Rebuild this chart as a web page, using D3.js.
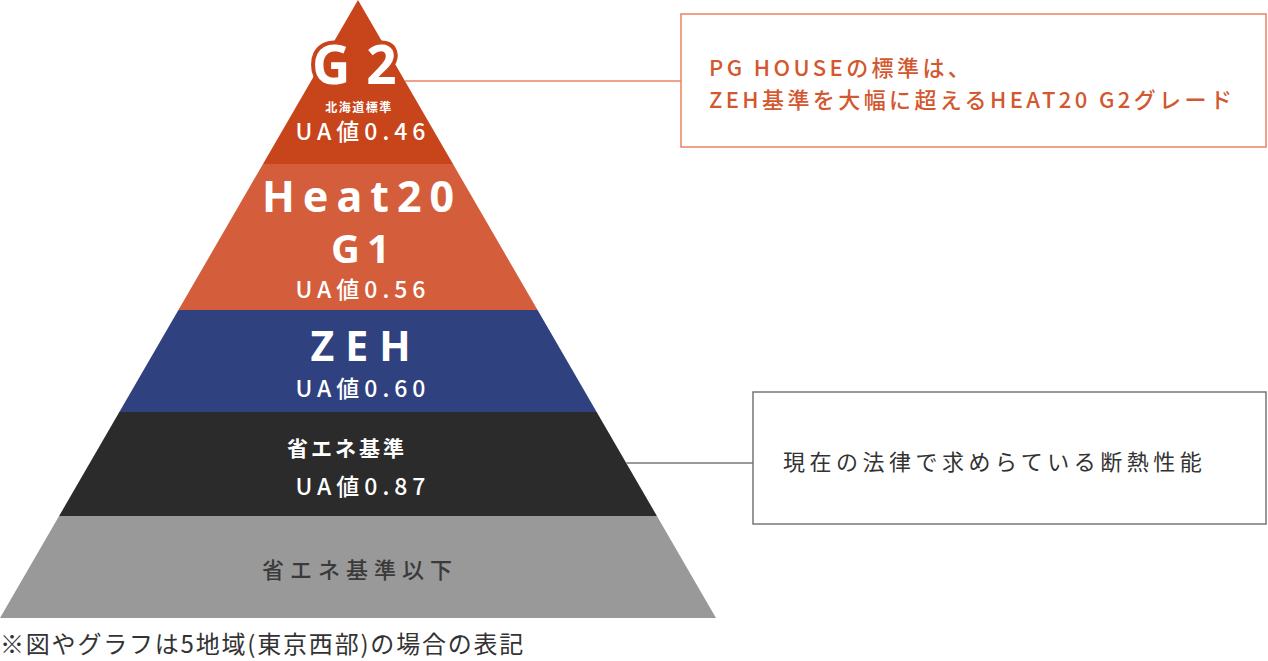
<!DOCTYPE html>
<html lang="ja">
<head>
  <meta charset="UTF-8"/>
  <title>断熱性能ピラミッド</title>
  <script src="https://cdn.jsdelivr.net/npm/d3@7"></script>
  <style>
    *{margin:0;padding:0;box-sizing:border-box}
    body{background:#fff;font-family:"Noto Sans CJK JP","Noto Sans",sans-serif}
    svg{display:block}
  </style>
</head>
<body>
<svg id="chart" width="1268" height="661"></svg>
<script>
// levels, top to bottom
const levels   = ['G2', 'Heat20 G1', 'ZEH', '省エネ基準', '省エネ基準以下'];
const uaValues = [0.46, 0.56, 0.60, 0.87, null];
const subNotes = ['北海道標準', '', '', '', ''];
const bandColors = ['#c8441b', '#d45e3c', '#30417f', '#2b2b2b', '#999999'];
const callouts = [
  { level: 'G2', lines: ['PG HOUSEの標準は、', 'ZEH基準を大幅に超えるHEAT20 G2グレード'] },
  { level: '省エネ基準', lines: ['現在の法律で求めらている断熱性能'] }
];
const footNote = '※図やグラフは5地域(東京西部)の場合の表記';

// layout
const W = 1268, H = 661;
const apexX = 358, baseY = 618;
const edges = [0, 164, 310, 412, 516, 618];   // band boundaries (px from top)

const svg = d3.select('#chart');
const half = d3.scaleLinear().domain([0, baseY]).range([0, apexX]);
const fmt = d3.format('.2f');

// bands
const bands = levels.map((name, i) => ({ name, i, y0: edges[i], y1: edges[i + 1] }));
svg.append('g').selectAll('path')
  .data(bands)
  .join('path')
  .attr('d', d => {
    const p = d3.path();
    p.moveTo(apexX - half(d.y0), d.y0);
    p.lineTo(apexX + half(d.y0), d.y0);
    p.lineTo(apexX + half(d.y1), d.y1);
    p.lineTo(apexX - half(d.y1), d.y1);
    p.closePath();
    return p.toString();
  })
  .attr('fill', d => bandColors[d.i]);

// callout connectors + boxes
const box1 = { x: 681, y: 14, w: 585, h: 133, lineY: 81, stroke: '#ec8163', color: '#d3572f' };
const box2 = { x: 753, y: 392, w: 513, h: 132, lineY: 463, stroke: '#777', color: '#333' };
[box1, box2].forEach((b, k) => {
  svg.append('line')
    .attr('x1', apexX + half(b.lineY)).attr('x2', b.x)
    .attr('y1', b.lineY).attr('y2', b.lineY)
    .attr('stroke', b.stroke).attr('stroke-width', 1.5);
  svg.append('rect')
    .attr('x', b.x).attr('y', b.y).attr('width', b.w).attr('height', b.h)
    .attr('fill', '#fff').attr('stroke', b.stroke).attr('stroke-width', 1.5);
  const t = svg.append('text')
    .attr('fill', b.color)
    .attr('font-size', 22)
    .attr('font-weight', k === 0 ? 500 : 400)
    .attr('letter-spacing', k === 0 ? 3.4 : 4.5);
  callouts[k].lines.forEach((ln, j) => {
    t.append('tspan')
      .attr('x', k === 0 ? 709 : 783)
      .attr('y', k === 0 ? 76 + j * 32 : 470)
      .text(ln);
  });
});

// labels inside the pyramid
const g = svg.append('g').attr('text-anchor', 'middle').attr('fill', '#fff');
const latin = '"Noto Sans", sans-serif';

// G2: white glyphs with a band-coloured outline that spills past the triangle
g.append('text')
  .attr('text-anchor', 'start')
  .attr('x', 312).attr('y', 84)
  .attr('font-size', 53).attr('font-weight', 700).attr('letter-spacing', 16)
  .attr('font-family', latin)
  .attr('fill', '#fff')
  .attr('stroke', bandColors[0]).attr('stroke-width', 8)
  .attr('stroke-linejoin', 'round')
  .attr('paint-order', 'stroke')
  .text(levels[0]);
g.append('text').attr('x', 359).attr('y', 112)
  .attr('font-size', 12).attr('font-weight', 700).attr('letter-spacing', 1.5)
  .text(subNotes[0]);

// Heat20 G1
const hName = levels[1].split(' ');
g.append('text').attr('x', 362).attr('y', 212)
  .attr('font-size', 43).attr('font-weight', 700).attr('letter-spacing', 8)
  .attr('font-family', latin)
  .text(hName[0]);
g.append('text').attr('x', 364).attr('y', 263)
  .attr('font-size', 40).attr('font-weight', 700).attr('letter-spacing', 7)
  .attr('font-family', latin)
  .text(hName[1]);

// ZEH
g.append('text').attr('x', 366).attr('y', 361)
  .attr('font-size', 41).attr('font-weight', 700).attr('letter-spacing', 11)
  .attr('font-family', latin)
  .text(levels[2]);

// 省エネ基準
g.append('text').attr('x', 347).attr('y', 456)
  .attr('font-size', 21).attr('font-weight', 700).attr('letter-spacing', 3)
  .text(levels[3]);

// 省エネ基準以下
g.append('text').attr('x', 360).attr('y', 578)
  .attr('fill', '#3a3a3a')
  .attr('font-size', 22).attr('font-weight', 500).attr('letter-spacing', 6)
  .text(levels[4]);

// UA values
const uaY = [140, 298, 397, 495];
uaValues.forEach((v, i) => {
  if (v == null) return;
  g.append('text').attr('x', 363).attr('y', uaY[i])
    .attr('font-size', 23).attr('font-weight', 500).attr('letter-spacing', 5)
    .text('UA値' + fmt(v));
});

// footnote
svg.append('text').attr('x', 0).attr('y', 653)
  .attr('fill', '#333').attr('font-size', 24).attr('letter-spacing', 1.8)
  .text(footNote);
</script>
</body>
</html>
